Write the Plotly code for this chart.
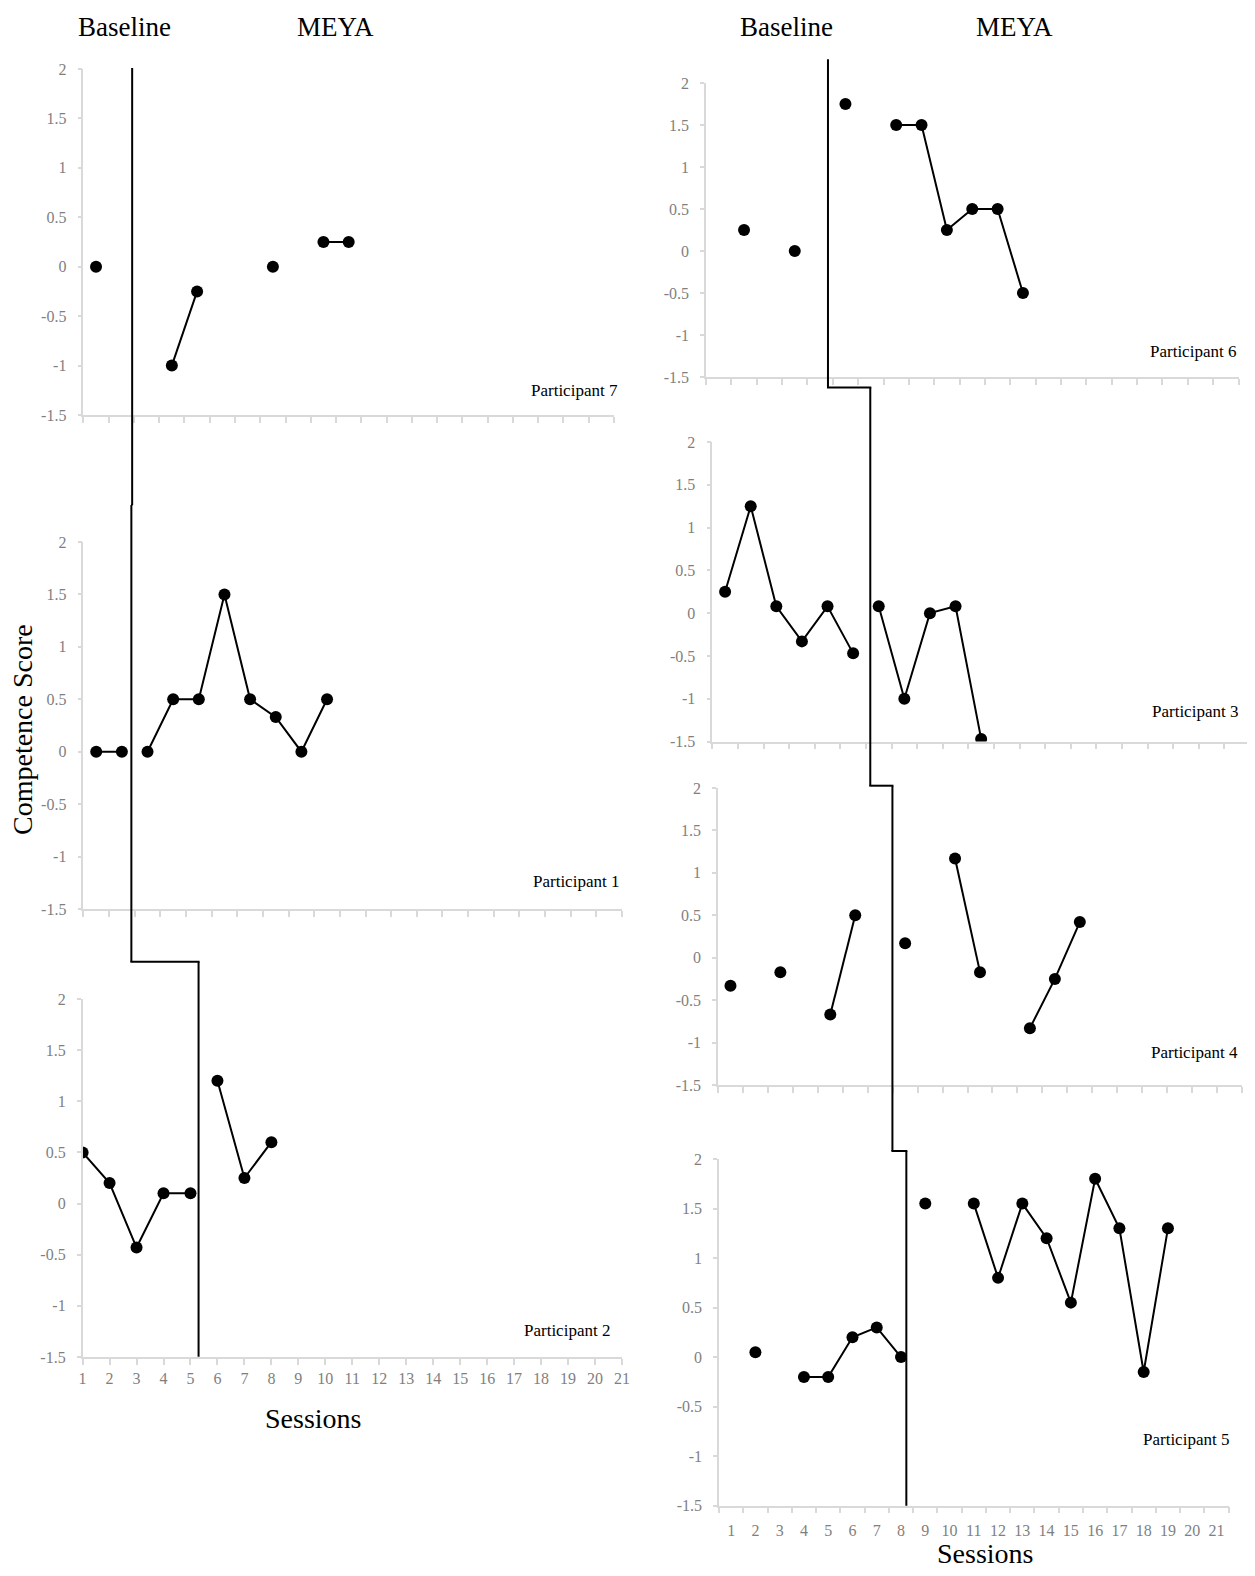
import plotly.graph_objects as go

W, H = 1255, 1576
OFF = 8                      # page body margin of the html wrapper
FW, FH = W - OFF, H - OFF    # figure size so it fills the window exactly

# ---------------- data ----------------
sessions_all = list(range(1, 22))
session_labels = [str(s) for s in sessions_all]
y_tickvals = [-1.5, -1, -0.5, 0, 0.5, 1, 1.5, 2]
y_ticktext = ["-1.5", "-1", "-0.5", "0", "0.5", "1", "1.5", "2"]

# competence scores by session (None = no session)
p7_scores = [0, None, None, -1, -0.25, None, None, 0, None, 0.25, 0.25]
p1_scores = [0, 0, 0, 0.5, 0.5, 1.5, 0.5, 0.33, 0, 0.5]
p2_scores = [0.5, 0.2, -0.43, 0.1, 0.1, 1.2, 0.25, 0.6]
p6_scores = [None, 0.25, None, 0, None, 1.75, None, 1.5, 1.5, 0.25, 0.5, 0.5, -0.5]
p3_scores = [0.25, 1.25, 0.08, -0.33, 0.08, -0.47, 0.08, -1, 0, 0.08, -1.47]
p4_scores = [-0.33, None, -0.17, None, -0.67, 0.5, None, 0.17, None, 1.17, -0.17,
             None, -0.83, -0.25, 0.42]
p5_scores = [None, 0.05, None, -0.2, -0.2, 0.2, 0.3, 0, 1.55, None, 1.55, 0.8, 1.55,
             1.2, 0.55, 1.8, 1.3, -0.15, 1.3]

# phase change position (between baseline and MEYA), in session units
p7_phase = 2.43
p1_phase = 2.37
p2_phase = 5.30
p6_phase = 5.31
p3_phase = 6.67
p4_phase = 7.49
p5_phase = 8.22

participant_names = ["Participant 7", "Participant 1", "Participant 2",
                     "Participant 6", "Participant 3", "Participant 4", "Participant 5"]

# ---------------- layout (pixel boxes in the window) ----------------
panels = [
    dict(scores=p7_scores, phase=p7_phase, box=(83.4, 614, 69, 415), mode="cat", labels=False,
         tag=(620, 390)),
    dict(scores=p1_scores, phase=p1_phase, box=(83.4, 622, 542, 909), mode="cat", labels=False,
         tag=(621, 881)),
    dict(scores=p2_scores, phase=p2_phase, box=(82.6, 622, 999, 1357), mode="tick", labels=True,
         tag=(612, 1330)),
    dict(scores=p6_scores, phase=p6_phase, box=(706, 1238.5, 83, 377), mode="cat", labels=False,
         tag=(1238, 352)),
    dict(scores=p3_scores, phase=p3_phase, box=(712.3, 1250, 442, 741.5), mode="cat", labels=False,
         tag=(1240, 711)),
    dict(scores=p4_scores, phase=p4_phase, box=(718, 1242, 788, 1085), mode="cat", labels=False,
         tag=(1240, 1052)),
    dict(scores=p5_scores, phase=p5_phase, box=(719, 1228.6, 1159, 1505.7), mode="cat", labels=True,
         tag=(1231, 1439)),
]

SERIF = "Liberation Serif, Times New Roman, serif"
AXIS_GRAY = "#d9d9d9"
LABEL_GRAY = "#7f7f7f"

fig = go.Figure()
layout = dict(
    width=FW, height=FH, autosize=False,
    margin=dict(l=0, r=0, t=0, b=0, pad=0),
    paper_bgcolor="white", plot_bgcolor="white",
    showlegend=False,
    font=dict(family=SERIF, color="black"),
)


def px_x(px):
    return (px - OFF) / FW


def px_y(py):
    return 1 - (py - OFF) / FH


def xrange_of(p):
    return [0.5, 21.5] if p["mode"] == "cat" else [1, 21]


def data_to_px(p, xv):
    r0, r1 = xrange_of(p)
    x0, x1 = p["box"][0], p["box"][1]
    return x0 + (xv - r0) / (r1 - r0) * (x1 - x0)


annotations = []
shapes = []

for i, p in enumerate(panels, start=1):
    xa = "x" if i == 1 else f"x{i}"
    ya = "y" if i == 1 else f"y{i}"
    x0, x1, yt, yb = p["box"]
    sess = list(range(1, len(p["scores"]) + 1))

    for side in ("base", "treat"):
        xs, ys = [], []
        for s, v in zip(sess, p["scores"]):
            if (side == "base" and s < p["phase"]) or (side == "treat" and s > p["phase"]):
                xs.append(s)
                ys.append(v)
        fig.add_trace(go.Scatter(
            x=xs, y=ys, mode="lines+markers", connectgaps=False,
            line=dict(color="black", width=2),
            marker=dict(color="black", size=12),
            xaxis=xa, yaxis=ya, hoverinfo="x+y",
        ))

    xkey = "xaxis" if i == 1 else f"xaxis{i}"
    ykey = "yaxis" if i == 1 else f"yaxis{i}"

    xaxis = dict(
        domain=[px_x(x0), px_x(x1)], range=xrange_of(p), anchor=ya,
        automargin=False,
        showline=True, linecolor=AXIS_GRAY, linewidth=1.5,
        showgrid=False, zeroline=False, fixedrange=True,
        tickfont=dict(family=SERIF, size=16, color=LABEL_GRAY),
    )
    if p["mode"] == "cat":
        xaxis.update(
            tickmode="array", tickvals=sessions_all, ticktext=session_labels,
            ticks="outside", ticklen=9, tickcolor="rgba(0,0,0,0)",
            showticklabels=p["labels"],
            minor=dict(ticks="outside", tick0=0.5, dtick=1, ticklen=6,
                       tickcolor=AXIS_GRAY, tickwidth=1.5, showgrid=False),
        )
    else:
        xaxis.update(
            tickmode="array", tickvals=sessions_all, ticktext=session_labels,
            ticks="outside", ticklen=6, tickcolor=AXIS_GRAY, tickwidth=1.5,
            showticklabels=True,
        )
    layout[xkey] = xaxis

    layout[ykey] = dict(
        domain=[px_y(yb), px_y(yt)], range=[-1.5, 2], anchor=xa,
        automargin=False,
        showline=True, linecolor=AXIS_GRAY, linewidth=1.5,
        showgrid=False, zeroline=False, fixedrange=True,
        tickmode="array", tickvals=y_tickvals, ticktext=y_ticktext,
        ticks="outside", ticklen=4, tickcolor=AXIS_GRAY, tickwidth=1.5,
        tickfont=dict(family=SERIF, size=16, color=LABEL_GRAY),
        ticklabelstandoff=8,
    )

    tx, ty = p["tag"]
    annotations.append(dict(
        text=participant_names[i - 1], xref="paper", yref="paper",
        x=px_x(tx), y=px_y(ty), xanchor="right", yanchor="middle",
        showarrow=False, font=dict(family=SERIF, size=17, color="black"),
    ))

# ---------------- phase-change step lines ----------------
left_steps = [(0, 68, 505), (1, 505, 961.7), (2, 961.7, 1356.7)]
right_steps = [(3, 59.3, 387.5), (4, 387.5, 785.7), (5, 785.7, 1151), (6, 1151, 1505.7)]

for steps in (left_steps, right_steps):
    prev = None
    for idx, ytop, ybot in steps:
        p = panels[idx]
        xa = "x" if idx == 0 else f"x{idx + 1}"
        shapes.append(dict(
            type="line", xref=xa, yref="paper",
            x0=p["phase"], x1=p["phase"], y0=px_y(ytop), y1=px_y(ybot),
            line=dict(color="black", width=2),
        ))
        if prev is not None:
            xa_px = data_to_px(panels[prev], panels[prev]["phase"])
            xb_px = data_to_px(p, p["phase"])
            shapes.append(dict(
                type="line", xref="paper", yref="paper",
                x0=px_x(xa_px) - 0.0008, x1=px_x(xb_px) + 0.0008,
                y0=px_y(ytop), y1=px_y(ytop),
                line=dict(color="black", width=2),
            ))
        prev = idx

# ---------------- titles ----------------
for txt, cx in (("Baseline", 124), ("MEYA", 335), ("Baseline", 786), ("MEYA", 1014)):
    annotations.append(dict(
        text=txt, xref="paper", yref="paper", x=px_x(cx), y=0.999,
        xanchor="center", yanchor="top", showarrow=False,
        font=dict(family=SERIF, size=27, color="black"),
    ))

annotations.append(dict(
    text="Competence Score", xref="paper", yref="paper", x=px_x(22), y=px_y(730),
    xanchor="center", yanchor="middle", textangle=-90, showarrow=False,
    font=dict(family=SERIF, size=28, color="black"),
))
for cx, cy in ((313, 1418), (985, 1553)):
    annotations.append(dict(
        text="Sessions", xref="paper", yref="paper", x=px_x(cx), y=px_y(cy),
        xanchor="center", yanchor="middle", showarrow=False,
        font=dict(family=SERIF, size=28, color="black"),
    ))

layout["annotations"] = annotations
layout["shapes"] = shapes
fig.update_layout(**layout)

fig.write_html("out.html")
